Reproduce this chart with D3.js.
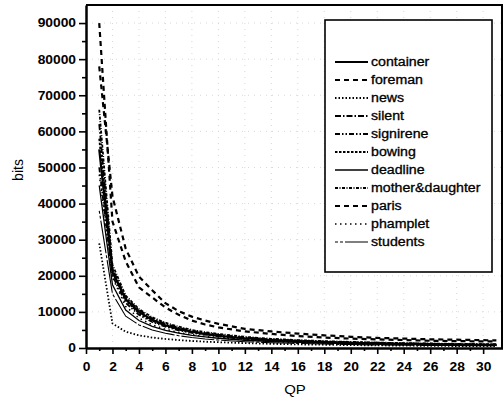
<!DOCTYPE html>
<html>
<head>
<meta charset="utf-8">
<script src="https://cdn.jsdelivr.net/npm/d3@7"></script>
<style>
  body { margin: 0; background: #fff; }
  svg { display: block; }
  text { font-family: "Liberation Sans", Arial, sans-serif; fill: #000; }
</style>
</head>
<body>
<div id="chart"></div>
<script>
var qp = [1, 2, 3, 4, 5, 6, 7, 8, 9, 10, 12, 14, 16, 18, 20, 22, 24, 26, 28, 31];

var container   = [55000, 21000, 13500, 10000, 7800, 6300, 5300, 4500, 3900, 3400, 2700, 2200, 1900, 1650, 1450, 1300, 1150, 1050, 950, 850];
var foreman     = [90000, 35000, 24000, 16800, 14000, 11200, 9200, 7600, 6500, 5700, 4600, 3900, 3300, 2900, 2600, 2400, 2200, 2000, 1900, 1800];
var news        = [29000, 6800, 4500, 3500, 2900, 2500, 2200, 1950, 1750, 1600, 1350, 1150, 1000, 900, 800, 720, 650, 600, 550, 500];
var silent      = [62000, 22000, 14000, 10500, 8200, 6700, 5600, 4800, 4200, 3700, 2900, 2400, 2050, 1800, 1600, 1450, 1300, 1200, 1100, 1000];
var signirene   = [50000, 20000, 12500, 9200, 7200, 5900, 4900, 4200, 3700, 3200, 2500, 2100, 1800, 1550, 1350, 1200, 1100, 1000, 900, 800];
var bowing      = [58000, 21500, 13200, 9600, 7500, 6100, 5100, 4400, 3800, 3300, 2600, 2150, 1800, 1550, 1380, 1230, 1100, 1000, 900, 820];
var deadline    = [45000, 17500, 10500, 7600, 6000, 4900, 4100, 3500, 3100, 2700, 2150, 1800, 1550, 1350, 1200, 1080, 980, 900, 830, 750];
var motherDaughter = [66000, 23000, 14500, 10800, 8500, 7000, 5900, 5000, 4400, 3900, 3100, 2550, 2200, 1900, 1700, 1500, 1350, 1250, 1150, 1050];
var paris       = [78000, 42000, 27500, 19800, 16000, 12400, 10200, 8700, 7600, 6700, 5300, 4600, 4000, 3500, 3100, 2800, 2600, 2400, 2300, 2100];
var phamplet    = [48000, 19500, 11500, 8300, 6400, 5200, 4300, 3700, 3200, 2800, 2200, 1800, 1500, 1300, 1150, 1030, 930, 850, 780, 700];
var students    = [38000, 15000, 8800, 6400, 5000, 4100, 3400, 2900, 2500, 2200, 1750, 1450, 1250, 1100, 950, 850, 780, 720, 660, 600];

var names = ["container", "foreman", "news", "silent", "signirene", "bowing",
             "deadline", "mother&daughter", "paris", "phamplet", "students"];
var values = [container, foreman, news, silent, signirene, bowing,
              deadline, motherDaughter, paris, phamplet, students];

var xTicks = d3.range(0, 31, 2);
var yTicks = d3.range(0, 90001, 10000);

// line looks, same order as names
var looks = [
  {w: 2.2, dash: null},
  {w: 2.2, dash: "5,4"},
  {w: 1.8, dash: "1.5,2"},
  {w: 1.8, dash: "6,2,1.5,2"},
  {w: 1.8, dash: "5,2,1.5,2,1.5,2"},
  {w: 1.8, dash: "2.5,1.5"},
  {w: 1.3, dash: null},
  {w: 1.8, dash: "3,1.5,1,1.5"},
  {w: 2.2, dash: "5,4"},
  {w: 1.5, dash: "1.5,3.5"},
  {w: 1.1, dash: "3,2,3,2,30,0"}
];

var W = 503, H = 399;
var pL = 86, pR = 503, pT = 5, pB = 348;

var svg = d3.select("#chart").append("svg")
  .attr("width", W).attr("height", H);

var x = d3.scaleLinear().domain([0, 31.5]).range([pL, pR]);
var y = d3.scaleLinear().domain([0, 95000]).range([pB, pT]);

function widen(sel, k) {
  sel.each(function() {
    var w = this.getComputedTextLength();
    this.setAttribute("textLength", w * k);
    this.setAttribute("lengthAdjust", "spacingAndGlyphs");
  });
}

// faint dotted grid
var grid = svg.append("g").attr("stroke", "#d8d8d8").attr("stroke-width", 1)
  .attr("stroke-dasharray", "1,5");
grid.selectAll(".gx").data(xTicks.slice(1)).enter().append("line")
  .attr("x1", d => x(d)).attr("x2", d => x(d)).attr("y1", pT).attr("y2", pB);
grid.selectAll(".gy").data(yTicks.slice(1)).enter().append("line")
  .attr("x1", pL).attr("x2", pR).attr("y1", d => y(d)).attr("y2", d => y(d));

svg.append("clipPath").attr("id", "clip").append("rect")
  .attr("x", pL).attr("y", pT).attr("width", pR - pL).attr("height", pB - pT);

var line = d3.line().x(d => x(d[0])).y(d => y(d[1]));

svg.append("g").attr("clip-path", "url(#clip)")
  .selectAll("path").data(values).enter().append("path")
  .attr("d", v => line(qp.map((q, i) => [q, v[i]])))
  .attr("fill", "none").attr("stroke", "#000")
  .attr("stroke-width", (v, i) => looks[i].w)
  .attr("stroke-dasharray", (v, i) => looks[i].dash);

// axes
var xAxis = svg.append("g").attr("transform", "translate(0," + pB + ")")
  .call(d3.axisBottom(x).tickValues(xTicks).tickSizeInner(6).tickSizeOuter(0).tickPadding(8));
svg.append("g").attr("transform", "translate(0," + pB + ")")
  .call(d3.axisBottom(x).tickValues(d3.range(1, 31, 2)).tickSize(3).tickFormat(""))
  .select(".domain").remove();

var yAxis = svg.append("g").attr("transform", "translate(" + pL + ",0)")
  .call(d3.axisLeft(y).tickValues(yTicks).tickFormat(d3.format("d"))
    .tickSizeInner(7).tickSizeOuter(0).tickPadding(3));
svg.append("g").attr("transform", "translate(" + pL + ",0)")
  .call(d3.axisLeft(y).tickValues(d3.range(5000, 95000, 10000)).tickSize(4).tickFormat(""))
  .select(".domain").remove();

svg.selectAll(".domain").attr("stroke-width", 2.5);
svg.selectAll(".tick line").attr("stroke-width", 1.6);
[xAxis, yAxis].forEach(a => a.selectAll("text")
  .style("font-size", "12px").style("font-weight", "bold").style("font-family", "'Liberation Sans', Arial, sans-serif"));
widen(xAxis.selectAll("text"), 1.15);
widen(yAxis.selectAll("text"), 1.15);

// frame top and right
svg.append("line").attr("x1", pL).attr("x2", pR).attr("y1", pT).attr("y2", pT)
  .attr("stroke", "#000").attr("stroke-width", 2);
svg.append("line").attr("x1", pR - 1).attr("x2", pR - 1).attr("y1", pT).attr("y2", pB)
  .attr("stroke", "#000").attr("stroke-width", 2);

// axis titles
var xt = svg.append("text").attr("x", 295).attr("y", 394).attr("text-anchor", "middle")
  .style("font-size", "13px").text("QP");
widen(xt, 1.15);
svg.append("text").attr("transform", "translate(23,170) rotate(-90)")
  .attr("text-anchor", "middle").style("font-size", "14px").text("bits");

// legend
var lg = svg.append("g");
lg.append("rect").attr("x", 325).attr("y", 20).attr("width", 167).attr("height", 252)
  .attr("fill", "#fff").attr("stroke", "#000").attr("stroke-width", 1.6);
var rows = lg.selectAll(".row").data(names).enter().append("g")
  .attr("transform", (d, i) => "translate(0," + (62 + 18 * i) + ")");
rows.append("line").attr("x1", 335).attr("x2", 368).attr("y1", 0).attr("y2", 0)
  .attr("stroke", "#000")
  .attr("stroke-width", (d, i) => looks[i].w)
  .attr("stroke-dasharray", (d, i) => looks[i].dash);
var lt = rows.append("text").attr("x", 371).attr("y", 0).attr("dy", "0.35em")
  .style("font-size", "12px").attr("stroke", "#000").attr("stroke-width", 0.3).text(d => d);
widen(lt, 1.18);
</script>
</body>
</html>
